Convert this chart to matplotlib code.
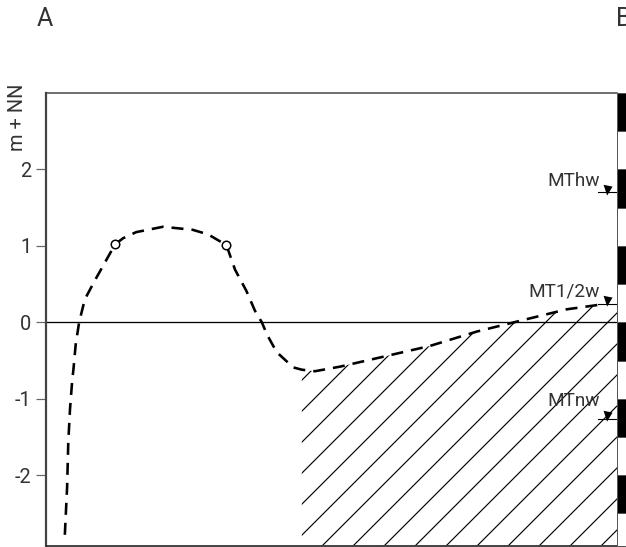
import matplotlib
matplotlib.use('Agg')
import matplotlib.pyplot as plt
import matplotlib.transforms as mtransforms
import numpy as np

DPI = 186
plt.rcParams['font.family'] = ['Roboto', 'DejaVu Sans']
plt.rcParams['hatch.linewidth'] = 0.45
plt.rcParams['lines.scale_dashes'] = False

def px(n):
    # pixels -> points at this dpi
    return n * 72.0 / DPI

# dashed water level profile (distance 0..10, m + NN)
dist = [0.33, 0.37, 0.39, 0.42, 0.46, 0.48, 0.52, 0.58, 0.68, 0.85, 1.06, 1.21,
        1.35, 1.58, 2.05, 2.57, 2.84, 3.16, 3.31, 3.51, 3.66, 3.78, 3.87, 4.04,
        4.33, 4.48, 4.71, 5.15, 5.85, 6.72, 7.55, 8.25, 9.12, 9.79]
level = [-2.78, -2.15, -1.57, -1.14, -0.75, -0.62, -0.29, 0.0, 0.30, 0.54, 0.82, 1.02,
         1.10, 1.18, 1.25, 1.21, 1.15, 1.01, 0.69, 0.41, 0.15, 0.0, -0.16, -0.39,
         -0.59, -0.62, -0.64, -0.58, -0.46, -0.31, -0.12, 0.01, 0.17, 0.24]
hatch_start = 25  # index where the hatched area begins

circle_x = [1.21, 3.16]
circle_y = [1.02, 1.01]

# tide marks
tide_names = ['MThw', 'MT1/2w', 'MTnw']
tide_levels = [1.70, 0.24, -1.26]
tide_text_y = [1.78, 0.34, -1.10]

# gauge staff on the right
gauge_edges = [-2.92, -2.5, -2.0, -1.5, -1.0, -0.5, 0.0, 0.5, 1.0, 1.5, 2.0, 2.5, 3.0]
gauge_black = [False, True, False, True, False, True, False, True, False, True, False, True]

yticks = [-2, -1, 0, 1, 2]
ymin, ymax = -2.92, 3.0
txt = '#333333'

fig = plt.figure(figsize=(626 / DPI, 547 / DPI), dpi=DPI)
ax = fig.add_axes([46 / 626, 1.5 / 547, (617 - 46) / 626, (545.5 - 93) / 547])
ax.set_xlim(0, 10)
ax.set_ylim(ymin, ymax)

# hatched area under the profile
hx = np.array(dist[hatch_start:] + [10.0])
hy = np.array(level[hatch_start:] + [level[-1]])
ax.fill_between(hx, hy, ymin, facecolor='none', edgecolor='black', linewidth=0,
                hatch='//')

ax.axhline(0, color='black', lw=px(1.3), zorder=2)

ax.plot(dist, level, color='black', lw=px(2.6), ls=(0, (px(12), px(8))),
        dash_capstyle='butt', zorder=3)
ax.plot(circle_x, circle_y, 'o', mfc='white', mec='black', ms=px(8.5),
        mew=px(1.5), zorder=4)

for name, lev, ty in zip(tide_names, tide_levels, tide_text_y):
    ax.plot([9.66, 10.0], [lev, lev], color='black', lw=px(1.1), zorder=4)
    ax.plot([9.83], [lev + 0.05], 'v', color='black', ms=px(5), zorder=5)
    ax.text(9.7, ty, name, ha='right', va='baseline', fontsize=px(19), color=txt)

# gauge staff, drawn just outside the right edge
trans = mtransforms.blended_transform_factory(ax.transAxes, ax.transData)
for y0, y1, black in zip(gauge_edges[:-1], gauge_edges[1:], gauge_black):
    ax.add_patch(plt.Rectangle((1.0, y0), 0.03, y1 - y0, transform=trans,
                               facecolor='black' if black else 'white',
                               edgecolor='#555555', lw=px(1), clip_on=False,
                               zorder=6))

ax.set_xticks([])
ax.set_yticks(yticks)
ax.set_yticklabels([str(t) for t in yticks], fontsize=px(20), color=txt)
ax.tick_params(axis='y', length=px(10), width=px(1.2), color='#666666', pad=px(5))
ax.spines['right'].set_visible(False)
ax.spines['left'].set_linewidth(px(2.2))
ax.spines['left'].set_color('#444444')
ax.spines['top'].set_linewidth(px(1.5))
ax.spines['top'].set_color('#444444')
ax.spines['bottom'].set_linewidth(px(1.8))
ax.spines['bottom'].set_color('#333333')

fig.text(17.5 / 626, 1 - 117 / 547, 'm + NN', rotation=90, ha='center', va='center',
         fontsize=px(20), color=txt)
fig.text(37 / 626, 1 - 19 / 547, 'A', ha='left', va='center', fontsize=px(25),
         color=txt)
fig.text(616 / 626, 1 - 19 / 547, 'B', ha='left', va='center', fontsize=px(25),
         color=txt)

fig.savefig('out.png', dpi=DPI)
